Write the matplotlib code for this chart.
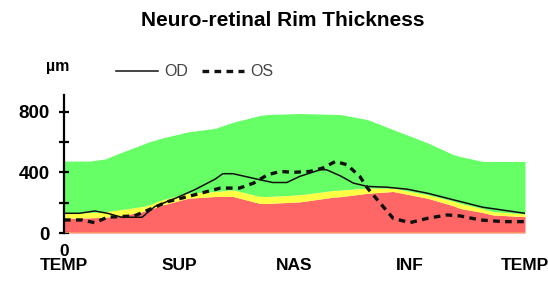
import matplotlib.pyplot as plt
from matplotlib.lines import Line2D

# normal range bands (degrees around the disc, rim thickness in um)
band_deg = [0, 20, 32, 45, 61, 66, 77, 97, 118, 132, 153, 159, 184, 210, 216, 237, 257, 284, 304, 309, 327, 335, 360]
red_top = [97, 100, 104, 115, 140, 152, 185, 229, 241, 241, 195, 195, 205, 236, 240, 262, 274, 229, 180, 163, 135, 119, 108]
yellow_top = [130, 135, 141, 155, 175, 185, 220, 262, 274, 285, 241, 241, 252, 280, 284, 296, 296, 252, 210, 196, 160, 141, 126]
green_top = [474, 474, 488, 532, 583, 600, 627, 667, 690, 730, 775, 781, 788, 782, 781, 748, 682, 594, 517, 505, 472, 472, 472]

# OD (solid)
od_deg = [0, 12, 24, 34, 45, 61, 71, 87, 102, 118, 124, 132, 153, 163, 174, 184, 200, 205, 216, 226, 237, 252, 268, 284, 304, 327, 360]
od_val = [130, 130, 145, 130, 104, 104, 175, 229, 285, 355, 391, 391, 351, 333, 333, 373, 417, 417, 376, 329, 307, 302, 289, 262, 219, 170, 130]

# OS (dashed)
os_deg = [0, 14, 24, 34, 55, 69, 81, 97, 112, 122, 137, 148, 159, 169, 179, 192, 202, 212, 221, 231, 237, 247, 257, 270, 284, 299, 309, 325, 343, 360]
os_val = [86, 86, 68, 104, 113, 163, 207, 241, 274, 296, 296, 329, 384, 406, 400, 406, 428, 472, 450, 373, 296, 196, 97, 68, 97, 119, 113, 86, 75, 75]

xticks = [0, 90, 180, 270, 360]
xlabels = ['0\nTEMP', '\nSUP', '\nNAS', '\nINF', '\nTEMP']

plt.rcParams['font.family'] = ['Liberation Sans', 'DejaVu Sans']

fig = plt.figure(figsize=(5.48, 2.87), dpi=100)
ax = fig.add_axes([64 / 548, 54 / 287, 461 / 548, 138 / 287])

ax.fill_between(band_deg, 0, red_top, color='#ff6666', lw=0)
ax.fill_between(band_deg, red_top, yellow_top, color='#ffff44', lw=0)
ax.fill_between(band_deg, yellow_top, green_top, color='#66ff66', lw=0)
ax.plot([0, 360], [0, 0], color='#f4a060', lw=1.2)

ax.plot(od_deg, od_val, color='#111111', lw=1.1)
ax.plot(os_deg, os_val, color='#111111', lw=2.4, linestyle=(0, (2.0, 1.6)))

ax.set_xlim(0, 360)
ax.set_ylim(0, 910)

for s in ['top', 'right', 'bottom']:
    ax.spines[s].set_visible(False)
ax.spines['left'].set_linewidth(1.6)

ax.set_yticks([0, 200, 400, 600, 800])
ax.set_yticklabels(['0', '', '400', '', '800'], fontsize=13.5, fontweight='bold')
ax.tick_params(axis='y', direction='inout', length=7, width=1.6, pad=7)

ax.set_xticks(xticks)
ax.set_xticklabels(xlabels, fontsize=12.5, fontweight='bold')
ax.tick_params(axis='x', length=0, pad=8)
for lab in ax.get_xticklabels():
    lab.set_linespacing(0.9)

fig.text(283 / 548, 1 - 20 / 287, 'Neuro-retinal Rim Thickness', ha='center', va='center',
         fontsize=15, fontweight='bold')
fig.text(58 / 548, 1 - 66 / 287, 'µm', ha='center', va='center', fontsize=11.5, fontweight='bold')

handles = [Line2D([], [], color='#111111', lw=1.1),
           Line2D([], [], color='#111111', lw=2.4, linestyle=(0, (2.0, 1.6)))]
fig.legend(handles, ['OD', 'OS'], loc='center left', bbox_to_anchor=(116 / 548, 1 - 72 / 287),
           ncol=2, frameon=False, borderpad=0, borderaxespad=0, handlelength=2.6,
           handletextpad=0.4, columnspacing=0.9, fontsize=11.5, labelcolor='#444444')

fig.savefig('out.png', dpi=100)
